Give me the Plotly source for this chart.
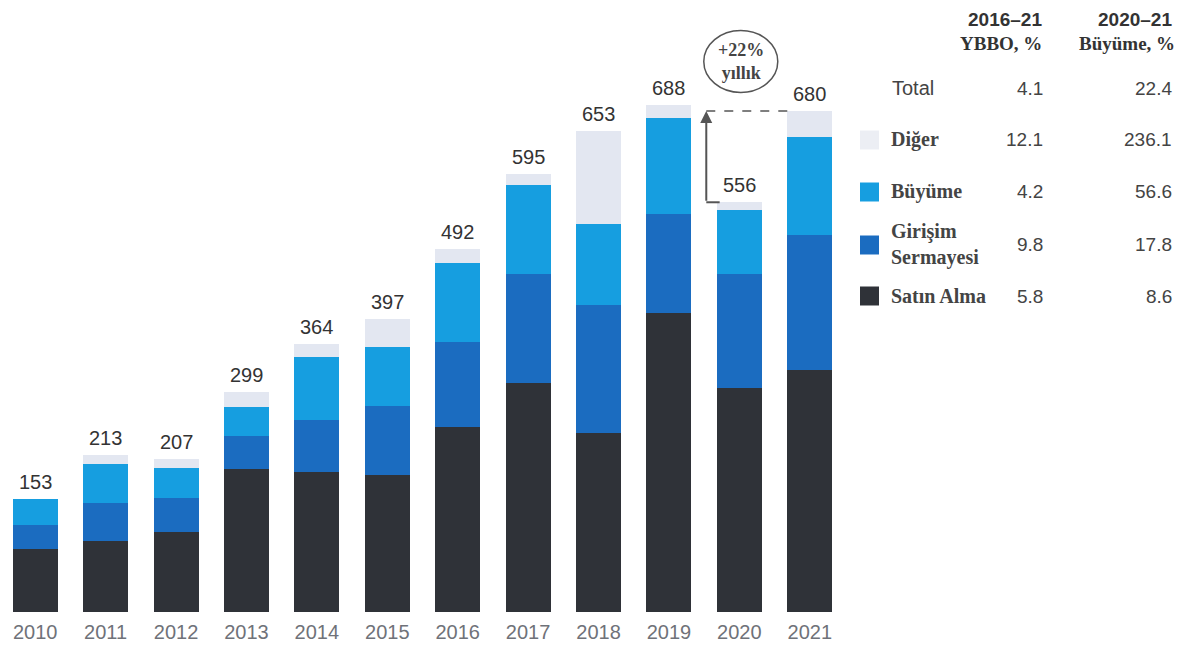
import plotly.graph_objects as go

years = [2010, 2011, 2012, 2013, 2014, 2015, 2016, 2017, 2018, 2019, 2020, 2021]
satin_alma = [86, 96, 109, 194, 190, 186, 251, 311, 243, 406, 304, 328]
girisim = [32, 52, 46, 45, 71, 94, 115, 147, 174, 134, 154, 183]
buyume = [35, 53, 41, 39, 85, 79, 108, 122, 110, 130, 87, 134]
diger = [0, 12, 11, 21, 18, 38, 18, 15, 126, 18, 11, 35]
totals = [153, 213, 207, 299, 364, 397, 492, 595, 653, 688, 556, 680]

series_names = ["Satın Alma", "Girişim<br>Sermayesi", "Büyüme", "Diğer"]
series_vals = [satin_alma, girisim, buyume, diger]
colors = ["#2f3238", "#1b6cc0", "#169ee0", "#e3e7f1"]

table_rows = ["Total", "Diğer", "Büyüme", "Girişim<br>Sermayesi", "Satın Alma"]
cagr_16_21 = ["4.1", "12.1", "4.2", "9.8", "5.8"]
growth_20_21 = ["22.4", "236.1", "56.6", "17.8", "8.6"]
row_colors = [None, "#eceef4", "#169ee0", "#1b6cc0", "#2f3238"]

W, H = 1196, 650
OFF = 8  # page body margin offset

fig = go.Figure()
for name, vals, col in zip(series_names, series_vals, colors):
    fig.add_trace(go.Bar(x=years, y=vals, name=name, marker=dict(color=col, line=dict(width=0)),
                         width=0.64, showlegend=False))

ann = []
for yr, t in zip(years, totals):
    ann.append(dict(x=yr, y=t, xref="x", yref="y", text=str(t), showarrow=False,
                    yanchor="bottom", yshift=4,
                    font=dict(family="Liberation Sans", size=20, color="#333333")))

# growth arrow 2020 -> 2021
ax_x = 2019.53
circ_y = 747
ann.append(dict(x=ax_x, y=totals[11], xref="x", yref="y", ax=ax_x, ay=totals[10],
                axref="x", ayref="y", text="", showarrow=True, arrowhead=2,
                arrowsize=1.2, arrowwidth=2, arrowcolor="#555555", standoff=0))
ann.append(dict(x=2020.02, y=circ_y, xref="x", yref="y", text="<b>+22%<br>yıllık</b>", showarrow=False,
                font=dict(family="Liberation Serif", size=18, color="#444444")))

shapes = [
    dict(type="line", xref="x", yref="y", x0=ax_x, x1=2019.72, y0=totals[10], y1=totals[10],
         line=dict(color="#555555", width=2)),
    dict(type="line", xref="x", yref="y", x0=ax_x, x1=2020.72, y0=totals[11], y1=totals[11],
         line=dict(color="#555555", width=1.5, dash="dash")),
    dict(type="circle", xref="x", yref="y", xsizemode="pixel", ysizemode="pixel",
         xanchor=2020.02, yanchor=circ_y, x0=-37, x1=37, y0=-31, y1=31,
         line=dict(color="#555555", width=1.5)),
]

def px(x):
    return (x - OFF) / W
def py(y):
    return 1 - (y - OFF) / H

# table headers
hdr = [("2016–21", 1044, 20, "Liberation Sans", 19), ("YBBO, %", 1044, 44, "Liberation Serif", 19),
       ("2020–21", 1174, 20, "Liberation Sans", 19), ("Büyüme, %", 1177, 44, "Liberation Serif", 19)]
for txt, x, y, fam, sz in hdr:
    ann.append(dict(x=px(x), y=py(y), xref="paper", yref="paper", text="<b>" + txt + "</b>",
                    showarrow=False, xanchor="right", yanchor="middle",
                    font=dict(family=fam, size=sz, color="#333333")))

row_y = [88, 140, 192, 245, 296]
for i, (lab, v1, v2, rc, y) in enumerate(zip(table_rows, cagr_16_21, growth_20_21, row_colors, row_y)):
    if i == 0:
        ann.append(dict(x=px(890), y=py(y), xref="paper", yref="paper", text=lab, showarrow=False,
                        xanchor="left", yanchor="middle",
                        font=dict(family="Liberation Sans", size=20, color="#444444")))
    else:
        ann.append(dict(x=px(889), y=py(y), xref="paper", yref="paper", text="<b>" + lab + "</b>",
                        showarrow=False, xanchor="left", yanchor="middle", align="left",
                        font=dict(family="Liberation Serif", size=20, color="#444444")))
        shapes.append(dict(type="rect", xref="paper", yref="paper", x0=px(860), x1=px(879),
                           y0=py(y + 9.5), y1=py(y - 9.5), fillcolor=rc, line=dict(width=0)))
    ann.append(dict(x=px(1045), y=py(y), xref="paper", yref="paper", text=v1, showarrow=False,
                    xanchor="right", yanchor="middle",
                    font=dict(family="Liberation Sans", size=19, color="#444444")))
    ann.append(dict(x=px(1174), y=py(y), xref="paper", yref="paper", text=v2, showarrow=False,
                    xanchor="right", yanchor="middle",
                    font=dict(family="Liberation Sans", size=19, color="#444444")))

ppu = 507.0 / 688.0  # pixels per unit (y)
xppu = 70.4          # pixels per category
fig.update_layout(
    barmode="stack",
    width=W, height=H,
    margin=dict(l=0, r=0, t=0, b=0),
    paper_bgcolor="white", plot_bgcolor="white",
    annotations=ann, shapes=shapes,
    xaxis=dict(domain=[0, (845 - OFF) / W], range=[2009.5 + OFF / xppu, 2021.5], tickmode="array",
               tickvals=years, ticktext=[str(y) for y in years], showgrid=False,
               zeroline=False, showline=False, ticks="", ticklabelstandoff=6,
               tickfont=dict(family="Liberation Sans", size=20, color="#6f7279")),
    yaxis=dict(domain=[(H - (612 - OFF)) / H, 1], range=[0, (612 - OFF) / ppu],
               visible=False, showgrid=False),
)

fig.write_html("out.html")
